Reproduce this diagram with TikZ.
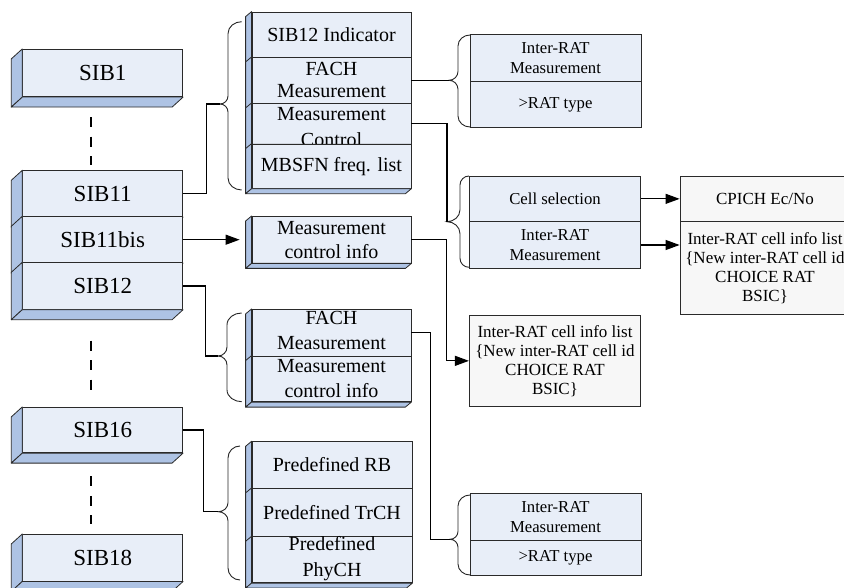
\documentclass[tikz,border=0pt]{standalone}
\usepackage{fontspec}
\setmainfont{Liberation Serif}
\usetikzlibrary{arrows.meta}
\definecolor{frontblue}{HTML}{E8EEF8}
\definecolor{sideblue}{HTML}{AEC3E4}
\definecolor{boxgray}{HTML}{F7F7F7}
\definecolor{edgecol}{HTML}{2A2A2A}
% section of a 3D stack: name, cx, cy, w, h, dx, dy
\newcommand{\secbox}[7]{%
  \node[front, minimum width=#4pt, minimum height=#5pt] (#1) at (#2,#3) {};
  \filldraw[side] (#1.north west) -- (#1.south west) -- ([shift={(#6pt,-#7pt)}]#1.south west) -- ([shift={(#6pt,-#7pt)}]#1.north west) -- cycle;
  \filldraw[side] (#1.south west) -- (#1.south east) -- ([shift={(#6pt,-#7pt)}]#1.south east) -- ([shift={(#6pt,-#7pt)}]#1.south west) -- cycle;
}
% brace: name(tip), E, B, T, ytop, ymid, ybot, r, r2
\newcommand{\brc}[9]{%
  \coordinate (#1) at (#4,#6);
  \draw[bracestyle] (#2,#5) to[out=180,in=90] (#3,{#5+#8}) -- (#3,{#6-#9}) to[out=-90,in=0] (#1)
     to[out=0,in=90] (#3,{#6+#9}) -- (#3,{#7-#8}) to[out=-90,in=180] (#2,#7);
}
\begin{document}
\begin{tikzpicture}[x=1pt,y=-1pt,
  front/.style={draw=edgecol, fill=frontblue, line width=0.8pt, inner sep=0pt, rectangle},
  side/.style={draw=edgecol, fill=sideblue, line width=0.8pt, line join=round},
  flatblue/.style={draw=edgecol, fill=frontblue, line width=0.8pt, inner sep=0pt, align=center,
     font=\fontsize{16.7}{20}\selectfont},
  flatgray/.style={draw=edgecol, fill=boxgray, line width=0.8pt, inner sep=0pt, align=center,
     font=\fontsize{17}{19}\selectfont},
  sibtxt/.style={font=\fontsize{23}{26}\selectfont, inner sep=0pt},
  sttxt/.style={font=\fontsize{20}{24}\selectfont, inner sep=0pt, align=center},
  conn/.style={line width=1.1pt, draw=black},
  arr/.style={conn, -{Triangle[length=14pt,width=10pt]}},
  bracestyle/.style={line width=0.9pt, draw=black!85},
  dotsline/.style={line width=2.6pt, dash pattern=on 10pt off 9.5pt}
]
\useasboundingbox (0,0) rectangle (844,588);
\clip (0,0) rectangle (844,588);

% ---- SIB column ----
\secbox{sib1}{102.7}{73}{160}{47.4}{-11}{10}
\node[sibtxt] (sib1t) at (sib1) {SIB1};
\secbox{sib11}{102.7}{193.7}{160}{46}{-11}{10}
\node[sibtxt] (sib11t) at (sib11) {SIB11};
\secbox{sib11bis}{102.7}{239.7}{160}{46}{-11}{10}
\node[sibtxt] (sib11bist) at (sib11bis) {SIB11bis};
\secbox{sib12}{102.7}{286}{160}{46.6}{-11}{10}
\node[sibtxt] (sib12t) at (sib12) {SIB12};
\secbox{sib16}{102.7}{430}{160}{45.4}{-11}{10}
\node[sibtxt] (sib16t) at (sib16) {SIB16};
\secbox{sib18}{102.7}{557.7}{160}{46.7}{-11}{10}
\node[sibtxt] (sib18t) at (sib18) {SIB18};

\draw[dotsline] ([xshift=-11.7pt,yshift=-20pt]sib1.south) -- ([xshift=-11.7pt,yshift=5pt]sib11.north);
\draw[dotsline] ([xshift=-11.7pt,yshift=-31pt]sib12.south) -- ([xshift=-11.7pt,yshift=15pt]sib16.north);
\draw[dotsline] ([xshift=-11.7pt,yshift=-23.3pt]sib16.south) -- ([xshift=-11.7pt,yshift=10.3pt]sib18.north);

% ---- top middle stack ----
\secbox{ts1}{331.5}{34.65}{159}{45.3}{-6}{5}
\node[sttxt] (ts1t) at (ts1) {SIB12 Indicator};
\secbox{fach1}{331.5}{80.3}{159}{46}{-6}{5}
\node[sttxt, font=\fontsize{20}{22}\selectfont] (fach1t) at ([yshift=0.5pt]fach1.center) {FACH\\Measurement};
\secbox{mc}{331.5}{123.65}{159}{40.7}{-6}{5}
\node[sttxt, font=\fontsize{20}{26}\selectfont] (mct) at ([yshift=-3.4pt]mc.center) {Measurement\\Control};
\secbox{mbsfn}{331.5}{166.15}{159}{44.3}{-6}{5}
\node[sttxt] (mbsfnt) at (mbsfn) {MBSFN freq. list};

% ---- measurement control info ----
\secbox{mci}{331.5}{239.7}{159}{46.6}{-6}{5}
\node[sttxt] (mcit) at (mci) {Measurement\\control info};

% ---- FACH / measurement control info stack ----
\secbox{fach2}{331.5}{332.65}{159}{46.7}{-6}{5}
\node[sttxt, font=\fontsize{20}{25}\selectfont] (fach2t) at ([yshift=2pt]fach2.center) {FACH\\Measurement};
\secbox{mci2}{331.5}{378.85}{159}{45.7}{-6}{5}
\node[sttxt, font=\fontsize{20}{25}\selectfont] (mci2t) at (mci2) {Measurement\\control info};

% ---- predefined stack ----
\secbox{pre1}{332}{465}{160}{46.6}{-6}{5}
\node[sttxt] (pre1t) at (pre1) {Predefined RB};
\secbox{pre2}{332}{512.5}{160}{48.4}{-6}{5}
\node[sttxt] (pre2t) at (pre2) {Predefined TrCH};
\secbox{pre3}{332}{559.7}{160}{46}{-6}{5}
\node[sttxt, font=\fontsize{20}{26}\selectfont] (pre3t) at ([yshift=1.5pt]pre3.center) {Predefined\\PhyCH};

% ---- flat boxes ----
\node[flatblue, minimum width=171pt, minimum height=47.4pt] (ir1a) at (555.5,58) {Inter-RAT\\Measurement};
\node[flatblue, minimum width=171pt, minimum height=45.6pt] (ir1b) at (555.5,104.5) {>RAT type};

\node[flatblue, minimum width=171.4pt, minimum height=45.7pt] (cs) at (555,198.85) {Cell selection};
\node[flatblue, minimum width=171.4pt, minimum height=46.6pt] (ir2) at (555,245) {Inter-RAT\\Measurement};

\node[flatgray, minimum width=170pt, minimum height=45.7pt] (cp) at (765,198.85) {CPICH Ec/No};
\node[flatgray, minimum width=170pt, minimum height=92.3pt] (cpinfo) at (765,267.85)
   {Inter-RAT cell info list\\\{New inter-RAT cell id\\CHOICE RAT\\BSIC\}};

\node[flatgray, minimum width=171.4pt, minimum height=91.7pt] (irc) at (555,360.85)
   {Inter-RAT cell info list\\\{New inter-RAT cell id\\CHOICE RAT\\BSIC\}};

\node[flatblue, minimum width=171pt, minimum height=46.7pt] (ir3a) at (555.5,516.65) {Inter-RAT\\Measurement};
\node[flatblue, minimum width=171pt, minimum height=35pt] (ir3b) at (555.5,557.5) {>RAT type};

% ---- braces ----
\brc{b1}{241.7}{228}{220}{21.7}{104}{190}{12}{8}
\brc{b2}{470}{458}{449}{35}{80.3}{127}{11}{9}
\brc{b3}{469}{460}{447}{176}{221.7}{267.3}{9}{12}
\brc{b4}{241.7}{227}{218}{313}{356}{401.7}{12}{9}
\brc{b5}{240}{228}{218.3}{446}{511.7}{580}{12}{9}
\brc{b6}{470}{458}{450}{495}{539.3}{575}{11}{8}

% ---- connectors ----
\draw[conn] (sib11.east) -- ++(23,0) |- (b1);
\draw[arr] (sib11bis.east) -- ([xshift=-12pt]mci.west);
\draw[conn] (sib12.east) -- ++(22,0) |- (b4);
\draw[conn] (sib16.east) -- ++(20,0) |- (b5);
\draw[conn] (fach1.east) -- (b2);
\draw[conn] (mc.east) -| (b3);
\draw[arr] (mci.east) -- ++(35,0) |- (irc.west);
\draw[conn] (fach2.east) -- ++(19.5,0) |- (b6);
\draw[arr] (cs.east) -- (cp.west);
\draw[arr] (ir2.east) -- (ir2.east -| cpinfo.west);
\end{tikzpicture}
\end{document}
